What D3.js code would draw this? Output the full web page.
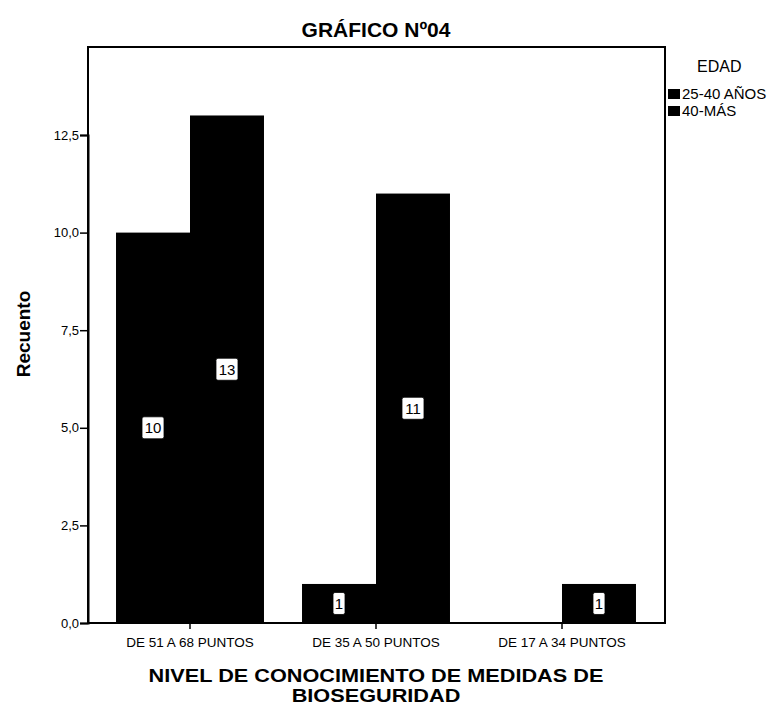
<!DOCTYPE html>
<html>
<head>
<meta charset="utf-8">
<script src="https://cdn.jsdelivr.net/npm/d3@7"></script>
<style>
  html, body { margin: 0; padding: 0; background: #fff; }
  svg { display: block; font-family: Arial, "Liberation Sans", sans-serif; }
</style>
</head>
<body>
<svg id="chart" width="775" height="708"></svg>
<script>
// Knowledge level categories (x axis)
const categories = ["DE 51 A 68 PUNTOS", "DE 35 A 50 PUNTOS", "DE 17 A 34 PUNTOS"];
// Age groups (legend)
const seriesNames = ["25-40 AÑOS", "40-MÁS"];
// Counts per category for each age group
const edad25a40 = [10, 1, 0];
const edad40mas = [13, 11, 1];
// Y axis ticks
const yTicks = [0, 2.5, 5, 7.5, 10, 12.5];

const seriesValues = [edad25a40, edad40mas];
const colors = ["#000000", "#000000"];

const svg = d3.select("#chart");

const plot = { left: 88, right: 665, top: 47, bottom: 623 };

const x = d3.scaleBand().domain(categories).range([97, 655]).padding(0);
const xs = d3.scaleBand().domain(seriesNames).range([0, x.bandwidth()])
  .paddingInner(0).paddingOuter(0.257);
const y = d3.scaleLinear().domain([0, 12.5]).range([plot.bottom, 135]);

// Title
svg.append("text")
  .attr("x", 376).attr("y", 37)
  .attr("text-anchor", "middle")
  .attr("font-size", 21).attr("font-weight", "bold")
  .text("GRÁFICO Nº04");

// Bars
const rows = [];
categories.forEach((c, i) => {
  seriesNames.forEach((s, j) => {
    rows.push({ cat: c, series: s, value: seriesValues[j][i], color: colors[j] });
  });
});
const bars = rows.filter(d => d.value > 0);

svg.append("g").selectAll("rect")
  .data(bars)
  .join("rect")
  .attr("x", d => x(d.cat) + xs(d.series))
  .attr("y", d => y(d.value))
  .attr("width", xs.bandwidth())
  .attr("height", d => y(0) - y(d.value))
  .attr("fill", d => d.color);

// Value labels in white boxes at mid-height
const lab = svg.append("g").attr("font-size", 15);
bars.forEach(d => {
  const cx = x(d.cat) + xs(d.series) + xs.bandwidth() / 2;
  const cy = y(d.value / 2);
  lab.append("rect")
    .attr("x", cx - (d.value >= 10 ? 11 : 6)).attr("y", cy - 11)
    .attr("width", d.value >= 10 ? 22 : 12).attr("height", 22)
    .attr("rx", 2)
    .attr("fill", "#fff")
    .attr("stroke", "#000").attr("stroke-width", 0.8);
  lab.append("text")
    .attr("x", cx).attr("y", cy + 5.5)
    .attr("text-anchor", "middle")
    .attr("fill", "#000")
    .text(d.value);
});

// Frame
svg.append("rect")
  .attr("x", plot.left).attr("y", plot.top)
  .attr("width", plot.right - plot.left).attr("height", plot.bottom - plot.top)
  .attr("fill", "none").attr("stroke", "#000").attr("stroke-width", 2);

// Y axis
const fmt = v => d3.format(".1f")(v).replace(".", ",");
const yAxis = svg.append("g")
  .attr("transform", `translate(${plot.left},0)`)
  .call(d3.axisLeft(y).tickValues(yTicks).tickFormat(fmt).tickSize(8).tickPadding(1));
yAxis.select(".domain").attr("stroke-width", 2);
yAxis.selectAll(".tick line").attr("stroke-width", 1.5);
yAxis.selectAll(".tick text").attr("font-size", 13).attr("fill", "#000")
  .attr("font-family", "Arial, 'Liberation Sans', sans-serif");

// X axis
const xAxis = svg.append("g")
  .attr("transform", `translate(0,${plot.bottom})`)
  .call(d3.axisBottom(x).tickSize(6).tickPadding(8));
xAxis.select(".domain").remove();
xAxis.selectAll(".tick line").attr("stroke-width", 1.5);
xAxis.selectAll(".tick text").attr("font-size", 13.5).attr("fill", "#000")
  .attr("font-family", "Arial, 'Liberation Sans', sans-serif");

// Axis titles
svg.append("text")
  .attr("transform", "translate(30,334) rotate(-90)")
  .attr("text-anchor", "middle")
  .attr("font-size", 19).attr("font-weight", "bold")
  .text("Recuento");

const xt = svg.append("g")
  .attr("transform", "translate(376,0) scale(1.24,1)")
  .attr("text-anchor", "middle")
  .attr("font-size", 17.5).attr("font-weight", "bold");
xt.append("text").attr("x", 0).attr("y", 682).text("NIVEL DE CONOCIMIENTO DE MEDIDAS DE");
xt.append("text").attr("x", 0).attr("y", 702).text("BIOSEGURIDAD");

// Legend
const lg = svg.append("g");
lg.append("text").attr("x", 697).attr("y", 72).attr("font-size", 16).text("EDAD");
seriesNames.forEach((s, i) => {
  const yy = 89 + i * 17;
  lg.append("rect").attr("x", 668).attr("y", yy).attr("width", 12).attr("height", 10)
    .attr("fill", colors[i]);
  lg.append("text").attr("x", 682).attr("y", yy + 10).attr("font-size", 15).text(s);
});
</script>
</body>
</html>
